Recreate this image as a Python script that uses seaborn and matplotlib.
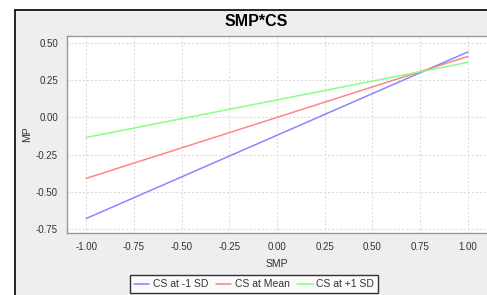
import matplotlib
matplotlib.use("Agg")
import matplotlib.pyplot as plt
import seaborn as sns
import pandas as pd
from matplotlib.patches import Rectangle
from matplotlib.lines import Line2D

smp = [-1.0, 1.0]
cs_minus = [-0.68, 0.44]
cs_mean = [-0.41, 0.41]
cs_plus = [-0.135, 0.37]
series_names = ["CS at -1 SD", "CS at Mean", "CS at +1 SD"]
colors = ["#8080ff", "#ff8080", "#80ff80"]
xticks = [-1.0, -0.75, -0.5, -0.25, 0.0, 0.25, 0.5, 0.75, 1.0]
yticks = [0.5, 0.25, 0.0, -0.25, -0.5, -0.75]

rows = []
for name, vals in zip(series_names, [cs_minus, cs_mean, cs_plus]):
    for x, y in zip(smp, vals):
        rows.append({"SMP": x, "MP": y, "series": name})
df = pd.DataFrame(rows)

sns.set_style("white")
plt.rcParams["font.family"] = ["Liberation Sans", "DejaVu Sans"]

W, H = 487, 295
fig = plt.figure(figsize=(W / 100, H / 100), dpi=100, facecolor="white")
# gray panel and black border
bg = Rectangle((15 / W, 0), 1, 1 - 10 / H, transform=fig.transFigure,
               facecolor="#eeeeee", edgecolor="none", zorder=-5)
fig.add_artist(bg)
fig.add_artist(Line2D([14.5 / W, 14.5 / W], [0, 1 - 9.5 / H], transform=fig.transFigure,
                      color="black", lw=1.2, zorder=-4))
fig.add_artist(Line2D([14.5 / W, 1], [1 - 9.5 / H, 1 - 9.5 / H], transform=fig.transFigure,
                      color="black", lw=1.2, zorder=-4))

ax = fig.add_axes([67 / W, 1 - 233 / H, (487 - 67) / W, (233 - 36) / H])
ax.set_zorder(1)
ax.set_facecolor("white")
sns.lineplot(data=df, x="SMP", y="MP", hue="series", palette=colors, ax=ax,
             legend=False, linewidth=1.1, alpha=0.95)

ax.set_xlim(-1.1, 1.1)
ax.set_ylim(-0.777, 0.547)
ax.set_xticks(xticks)
ax.set_xticklabels([f"{v:.2f}" for v in xticks], fontsize=7)
ax.set_yticks(yticks)
ax.set_yticklabels([f"{v:.2f}" for v in yticks], fontsize=7)
ax.tick_params(axis="both", direction="out", length=2.5, width=0.8, color="#888888",
               pad=4, labelcolor="#333333")
ax.grid(True, linestyle=(0, (2, 2)), color="#d8d8d8", linewidth=0.7)
for s in ["left", "bottom", "top"]:
    ax.spines[s].set_color("#999999")
    ax.spines[s].set_linewidth(1.0)
ax.spines["right"].set_visible(False)

ax.set_xlabel("SMP", fontsize=7.5, color="#333333", labelpad=5)
ax.set_ylabel("MP", fontsize=7.5, color="#333333", labelpad=3)

fig.text(256 / W, 1 - 22 / H, "SMP*CS", ha="center", va="center",
         fontsize=11.5, fontweight="bold", color="black")

handles = [Line2D([0], [0], color=c, lw=1.1) for c in colors]
leg = fig.legend(handles, series_names, loc="upper center", bbox_to_anchor=(254 / W, 1 - 275 / H),
                 ncol=3, fontsize=7.5, frameon=True, fancybox=False, handlelength=1.5,
                 handletextpad=0.35, columnspacing=0.7, borderpad=0.4, borderaxespad=0)
leg.get_frame().set_edgecolor("black")
leg.get_frame().set_linewidth(1.0)
leg.get_frame().set_facecolor("white")
leg.set_zorder(2)
for t in leg.get_texts():
    t.set_color("#333333")

fig.savefig("out.png", dpi=100, facecolor="white")
